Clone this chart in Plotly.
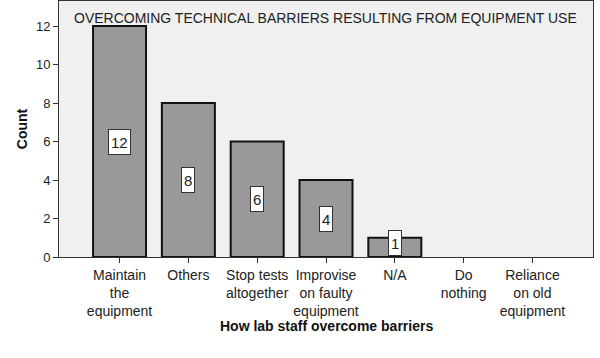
import plotly.graph_objects as go

categories = ["Maintain<br>the<br>equipment", "Others", "Stop tests<br>altogether",
              "Improvise<br>on faulty<br>equipment", "N/A", "Do<br>nothing", "Reliance<br>on old<br>equipment"]
counts = [12, 8, 6, 4, 1, 0, 0]
y_ticks = [0, 2, 4, 6, 8, 10, 12]
chart_title = "OVERCOMING TECHNICAL BARRIERS RESULTING FROM EQUIPMENT USE"
x_title = "How lab staff overcome barriers"
y_title = "Count"

plot_counts = [c if c > 0 else None for c in counts]

fig = go.Figure()
fig.add_trace(go.Bar(
    x=categories, y=plot_counts, width=0.77,
    marker=dict(color="#999999", line=dict(color="#111111", width=2)),
    hoverinfo="skip",
))

for cat, c in zip(categories, counts):
    if c > 0:
        fig.add_annotation(x=cat, y=max(c / 2, 0.75), text=str(c), showarrow=False,
                           font=dict(family="Arial", size=15, color="#222222"),
                           height=20,
                           bgcolor="white", bordercolor="#333333", borderwidth=1, borderpad=2)

fig.add_annotation(xref="paper", yref="paper", x=0.025, y=0.935, xanchor="left", yanchor="middle",
                   text=chart_title, showarrow=False,
                   font=dict(family="Arial", size=14, color="#222222"))

fig.add_annotation(xref="paper", yref="paper", x=0.5, y=-0.27, xanchor="center", yanchor="middle",
                   text="<b>" + x_title + "</b>", showarrow=False,
                   font=dict(family="Arial", size=14, color="#111111"))
fig.add_annotation(xref="paper", yref="paper", x=-0.069, y=0.5, xanchor="center", yanchor="middle",
                   text="<b>" + y_title + "</b>", showarrow=False, textangle=-90,
                   font=dict(family="Arial", size=14, color="#111111"))

fig.update_layout(
    width=600, height=358,
    margin=dict(l=59, r=7, t=1, b=101),
    paper_bgcolor="white", plot_bgcolor="#f0f0f0",
    showlegend=False,
    font=dict(family="Arial", color="#222222"),
    xaxis=dict(
        type="category", range=[-0.88, 6.88], automargin=False,
        showline=True, linecolor="#333333", linewidth=1, mirror=True,
        ticks="outside", ticklen=5, tickcolor="#333333",
        tickfont=dict(family="Arial", size=14, color="#222222"),
        showgrid=False,
    ),
    yaxis=dict(
        range=[0, 13.3], tickvals=y_ticks, automargin=False,
        showline=True, linecolor="#333333", linewidth=1, mirror=True,
        ticks="outside", ticklen=5, tickcolor="#333333",
        tickfont=dict(family="Arial", size=13, color="#222222"),
        showgrid=False, zeroline=False,
    ),
)

fig.write_html("out.html", config={"displayModeBar": False},
               post_script="document.body.style.margin='0';document.body.style.overflow='hidden';")
